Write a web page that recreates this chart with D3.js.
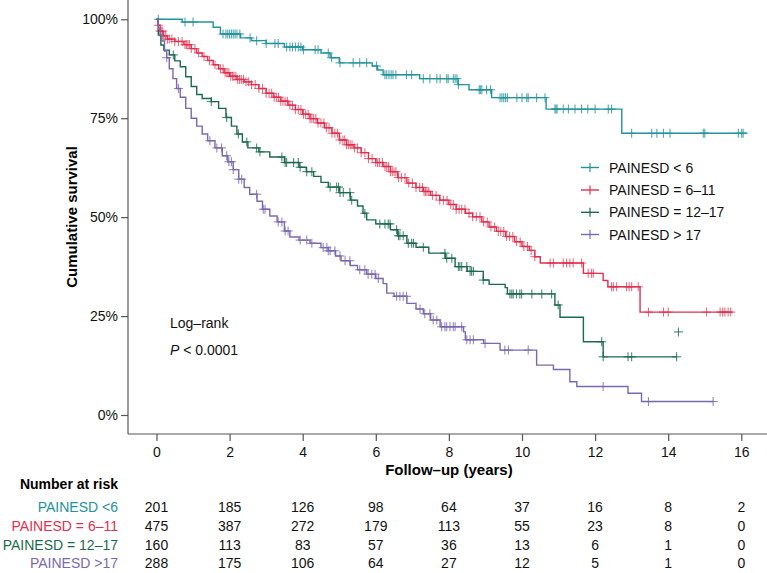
<!DOCTYPE html>
<html>
<head>
<meta charset="utf-8">
<script src="https://cdn.jsdelivr.net/npm/d3@7"></script>
<style>
  body { margin: 0; background: #fff; }
  text { font-family: "Liberation Sans", Arial, Helvetica, sans-serif; }
</style>
</head>
<body>
<svg id="chart" width="767" height="573"></svg>
<script>
// axis ticks
const timeTicks = [0, 2, 4, 6, 8, 10, 12, 14, 16];
const survTicks = [0, 25, 50, 75, 100];

// group names (legend / risk table)
const legendLabels = ['PAINESD < 6', 'PAINESD = 6\u201311', 'PAINESD = 12\u201317', 'PAINESD > 17'];
const tableLabels = ['PAINESD <6', 'PAINESD = 6\u201311', 'PAINESD = 12\u201317', 'PAINESD >17'];
const colors = ['#23939b', '#e0304f', '#1c6a4c', '#7a69ae'];

// number at risk, one value per time tick
const riskLt6 = [201, 185, 126, 98, 64, 37, 16, 8, 2];
const risk6to11 = [475, 387, 272, 179, 113, 55, 23, 8, 0];
const risk12to17 = [160, 113, 83, 57, 36, 13, 6, 1, 0];
const riskGt17 = [288, 175, 106, 64, 27, 12, 5, 1, 0];

// KM steps [time in years, survival %], last entry = end of follow-up
const stepsLt6 = [[0,100],[0.7,99.3],[1.55,98],[1.75,96.3],[2.3,95.3],[2.6,94.6],[3.0,93.9],[3.5,93.0],[4.0,92.3],
  [4.5,91.5],[4.75,90.3],[5.0,89.0],[5.9,88.2],[6.05,87.2],[6.2,86.0],[7.2,85.0],[8.25,83.5],[8.55,82.2],
  [9.17,80.2],[10.66,77.3],[12.73,71.2],[16.15,71.2]];
const steps6to11 = [[0,100],[0.04,98.5],[0.1,97],[0.18,95.8],[0.3,95],[0.5,94.4],[0.75,93.6],[0.95,92.6],[1.1,91.5],
  [1.25,90.6],[1.4,89.6],[1.55,88.5],[1.7,87.5],[1.85,86.5],[2.0,85.6],[2.2,84.8],[2.4,84.2],[2.6,83.5],[2.8,82.5],
  [3.0,81.3],[3.2,80.3],[3.4,79.3],[3.6,78.3],[3.8,77.2],[4.0,76.0],[4.2,74.9],[4.4,73.8],[4.6,72.6],[4.8,71.2],
  [5.0,69.5],[5.2,68.3],[5.4,67.5],[5.6,66.3],[5.8,64.8],[6.0,63.8],[6.2,62.8],[6.4,61.5],[6.6,60.0],[6.85,58.6],
  [7.1,57.5],[7.3,56.5],[7.5,55.5],[7.75,54.3],[8.0,53.2],[8.2,52.0],[8.45,51],[8.65,50.1],[8.9,48.8],[9.1,47.5],
  [9.3,46.4],[9.55,45.1],[9.8,43.8],[10.0,42.6],[10.2,41.6],[10.35,40.0],[10.5,38.4],[11.68,35.8],[12.22,34.0],
  [12.35,32.4],[13.23,26.0],[15.77,26.0]];
const steps12to17 = [[0,100],[0.05,96],[0.12,93.5],[0.2,92.2],[0.35,91],[0.5,89.5],[0.65,88],[0.8,85.5],[0.95,83],
  [1.1,81],[1.25,80],[1.5,79.2],[1.7,77.5],[1.9,75.2],[2.05,73],[2.2,71],[2.35,69],[2.5,67.5],[2.8,66.5],[3.1,65.2],
  [3.5,63.8],[3.9,62.6],[4.1,61.5],[4.3,60.3],[4.5,58.8],[4.7,57.6],[5.0,56.2],[5.3,54.3],[5.5,52.8],[5.65,51],
  [5.75,49.3],[6.0,48.3],[6.4,46.8],[6.6,45.3],[6.85,43.4],[7.1,42.4],[7.45,40.9],[7.9,39.6],[8.17,37.5],[8.5,36.3],
  [8.94,34.1],[9.1,33],[9.54,32.2],[9.6,30.6],[10.9,27.8],[11.04,24.7],[11.68,18.5],[12.22,14.7],[14.23,14.7]];
const stepsGt17 = [[0,100],[0.05,97.5],[0.1,96],[0.15,94.5],[0.22,92],[0.28,90.3],[0.35,87.5],[0.45,85],[0.55,82.5],
  [0.65,80.3],[0.8,77.5],[0.95,75],[1.1,73],[1.25,71],[1.4,69.3],[1.6,67.5],[1.8,65.5],[1.95,64],[2.1,62],
  [2.25,59.6],[2.4,57.5],[2.55,55.8],[2.75,54],[2.9,52],[3.1,50.3],[3.3,48.8],[3.5,46.5],[3.65,45],[3.9,44.2],
  [4.2,43.4],[4.5,42.3],[4.7,41.5],[4.9,40.2],[5.05,39],[5.3,37.8],[5.5,36.7],[5.75,35.6],[6.0,34.5],[6.2,33.2],
  [6.3,30.8],[6.5,30],[6.85,28.2],[7.1,26.8],[7.3,25.6],[7.5,24],[7.76,22.3],[8.4,21],[8.45,19],[8.95,18.1],
  [9.4,16.4],[10.4,12.6],[10.86,11.5],[11.31,8.4],[11.5,7.2],[12.9,5.5],[13.27,3.4],[15.23,3.4]];

// censoring times (years)
const censorLt6 = [0.05,0.78,1.0,1.82,1.9,1.95,2.0,2.05,2.1,2.15,2.2,2.28,2.56,2.74,3.0,3.24,3.33,3.56,3.65,3.72,3.8,
  3.88,3.95,4.02,4.34,4.42,4.7,4.79,5.02,5.38,5.56,5.75,6.02,6.25,6.3,6.36,6.42,6.47,6.55,6.84,6.98,7.3,7.48,7.67,
  7.76,7.94,7.98,8.12,8.17,8.22,8.26,8.83,8.86,8.9,9.03,9.14,9.4,9.45,9.5,9.55,9.6,9.86,10.0,10.13,10.17,10.4,
  10.63,10.9,10.93,10.96,11.13,11.27,11.45,11.63,11.8,12.0,12.36,12.45,13.0,13.55,13.69,13.87,14.05,14.96,15.0,
  15.92,16.01,16.05];
const censor6to11 = [0.05,0.1,0.13,0.17,0.2,0.25,0.3,0.35,0.42,0.5,0.6,0.7,0.78,0.82,0.86,0.9,0.95,1.05,1.15,1.3,
  1.45,1.6,1.75,1.82,1.88,1.93,1.98,2.03,2.08,2.12,2.17,2.22,2.27,2.32,2.38,2.45,2.52,2.6,2.7,2.8,2.9,3.0,3.08,
  3.15,3.22,3.28,3.34,3.4,3.46,3.52,3.58,3.65,3.72,3.8,3.88,3.95,4.02,4.08,4.15,4.2,4.25,4.3,4.36,4.42,4.5,4.58,
  4.65,4.72,4.8,4.88,4.95,5.02,5.1,5.15,5.2,5.25,5.3,5.35,5.42,5.5,5.6,5.7,5.8,5.9,6.0,6.05,6.1,6.18,6.25,6.3,
  6.35,6.4,6.45,6.5,6.55,6.62,6.7,6.8,6.9,7.0,7.1,7.2,7.28,7.32,7.36,7.4,7.45,7.55,7.65,7.75,7.85,7.95,8.05,8.12,
  8.2,8.28,8.35,8.44,8.55,8.65,8.75,8.85,8.95,9.05,9.15,9.25,9.35,9.42,9.5,9.58,9.66,9.75,9.85,9.95,10.05,10.15,
  10.25,10.35,10.77,10.86,11.13,11.22,11.31,11.4,11.63,11.81,11.9,11.95,12.45,12.5,12.59,12.86,12.93,13.0,13.18,
  13.46,13.87,14.0,15.05,15.42,15.49,15.55,15.64,15.71];
const censor12to17 = [0.46,1.5,1.92,2.24,2.47,2.74,2.83,3.43,3.52,3.56,3.75,3.88,3.93,4.11,4.25,4.75,4.93,4.98,5.02,
  5.11,5.29,5.34,5.7,6.11,6.25,6.34,6.39,6.57,6.62,6.66,6.75,6.89,6.98,7.03,7.3,7.89,7.94,8.08,8.26,8.3,8.35,8.49,
  8.58,8.62,8.67,8.94,9.67,9.72,9.76,9.85,9.94,9.99,10.27,10.54,10.81,10.99,12.18,12.22,12.9,13.0,14.23];
const censorGt17 = [0.28,0.6,1.46,1.65,1.78,1.92,1.98,2.05,2.1,2.25,2.33,2.74,2.92,2.97,3.33,3.43,3.52,3.6,3.93,
  4.11,4.25,4.56,4.66,4.7,4.75,4.88,5.02,5.16,5.29,5.56,5.7,5.79,5.89,5.98,6.07,6.57,6.66,6.75,6.84,7.21,7.34,
  7.48,7.57,7.67,7.8,7.89,7.94,8.03,8.12,8.17,8.35,8.49,8.58,8.67,8.99,9.53,9.63,10.17,12.22,13.46,15.23];
// a lone mark of the 12-17 group that sits off its curve [time, survival %]
const offCurve12to17 = [[14.28, 21]];

const series = [
  { steps: stepsLt6, censor: censorLt6, extra: [], risk: riskLt6 },
  { steps: steps6to11, censor: censor6to11, extra: [], risk: risk6to11 },
  { steps: steps12to17, censor: censor12to17, extra: offCurve12to17, risk: risk12to17 },
  { steps: stepsGt17, censor: censorGt17, extra: [], risk: riskGt17 }
];

const svg = d3.select('#chart');
const axisColor = '#555';

const x = d3.scaleLinear().domain([0, 16]).range([156.5, 741.3]);
const y = d3.scaleLinear().domain([0, 100]).range([415, 19.3]);
const axisX0 = 128, axisY0 = 434;

// axes
const yAxis = svg.append('g')
  .attr('transform', `translate(${axisX0},0)`)
  .call(d3.axisLeft(y).tickValues(survTicks).tickFormat(d => d + '%').tickSize(7).tickPadding(3));
yAxis.select('.domain').remove();
yAxis.append('line').attr('x1', 0).attr('x2', 0).attr('y1', 0).attr('y2', axisY0);

const xAxis = svg.append('g')
  .attr('transform', `translate(0,${axisY0})`)
  .call(d3.axisBottom(x).tickValues(timeTicks).tickSize(7).tickPadding(6));
xAxis.select('.domain').remove();
xAxis.append('line').attr('x1', axisX0).attr('x2', 767).attr('y1', 0).attr('y2', 0);

svg.selectAll('g').selectAll('line').attr('stroke', axisColor).attr('stroke-width', 1.2);
svg.selectAll('.tick text').attr('fill', '#111').style('font-size', '14px')
  .style('font-family', '"Liberation Sans", Arial, sans-serif');

// axis titles
svg.append('text')
  .attr('transform', 'translate(77,217) rotate(-90)')
  .attr('text-anchor', 'middle')
  .style('font-size', '15px').style('font-weight', 'bold')
  .text('Cumulative survival');
svg.append('text')
  .attr('x', x(8)).attr('y', 475)
  .attr('text-anchor', 'middle')
  .style('font-size', '15px').style('font-weight', 'bold')
  .text('Follow\u2013up (years)');

// survival curves
const line = d3.line()
  .x(d => x(d[0]))
  .y(d => y(d[1]))
  .curve(d3.curveStepAfter);

const survAt = (steps, t) => {
  const i = d3.bisector(d => d[0]).right(steps, t) - 1;
  return steps[Math.max(0, i)][1];
};

const cross = 4.5;
series.forEach((s, i) => {
  const g = svg.append('g');
  g.append('path')
    .attr('d', line(s.steps))
    .attr('fill', 'none')
    .attr('stroke', colors[i])
    .attr('stroke-width', 1.4);

  const marks = s.censor.map(t => [t, survAt(s.steps, t)]).concat(s.extra);
  const m = g.selectAll('g.mark').data(marks).enter().append('g')
    .attr('transform', d => `translate(${x(d[0])},${y(d[1])})`)
    .attr('stroke', colors[i])
    .attr('stroke-width', 1.1)
    .attr('stroke-opacity', i === 1 ? 0.7 : 0.8);
  m.append('line').attr('x1', -cross).attr('x2', cross);
  m.append('line').attr('y1', -cross).attr('y2', cross);
});

// legend
const legendY = [167.5, 190, 212.3, 234.5];
legendLabels.forEach((lab, i) => {
  const g = svg.append('g').attr('transform', `translate(590,${legendY[i]})`);
  g.append('line').attr('x1', -9).attr('x2', 9).attr('stroke', colors[i]).attr('stroke-width', 1.4);
  g.append('line').attr('y1', -cross).attr('y2', cross).attr('stroke', colors[i]).attr('stroke-width', 1.2);
  g.append('text').attr('x', 19).attr('y', 5).style('font-size', '14px').attr('fill', '#111').text(lab);
});

// log-rank annotation
svg.append('text').attr('x', 170).attr('y', 328).style('font-size', '14px').attr('fill', '#111').text('Log\u2013rank');
const p = svg.append('text').attr('x', 170).attr('y', 355).style('font-size', '14px').attr('fill', '#111');
p.append('tspan').style('font-style', 'italic').text('P');
p.append('tspan').text(' < 0.0001');

// number at risk table
svg.append('text')
  .attr('x', 118).attr('y', 489)
  .attr('text-anchor', 'end')
  .style('font-size', '14px').style('font-weight', 'bold')
  .text('Number at risk');

const rowY = [511.7, 530.7, 550, 568.3];
series.forEach((s, i) => {
  svg.append('text')
    .attr('x', 118).attr('y', rowY[i])
    .attr('text-anchor', 'end')
    .attr('fill', colors[i])
    .style('font-size', '14px')
    .text(tableLabels[i]);
  svg.append('g').selectAll('text').data(s.risk).enter().append('text')
    .attr('x', (d, j) => x(timeTicks[j]))
    .attr('y', rowY[i])
    .attr('text-anchor', 'middle')
    .attr('fill', '#111')
    .style('font-size', '14px')
    .text(d => d);
});
</script>
</body>
</html>
